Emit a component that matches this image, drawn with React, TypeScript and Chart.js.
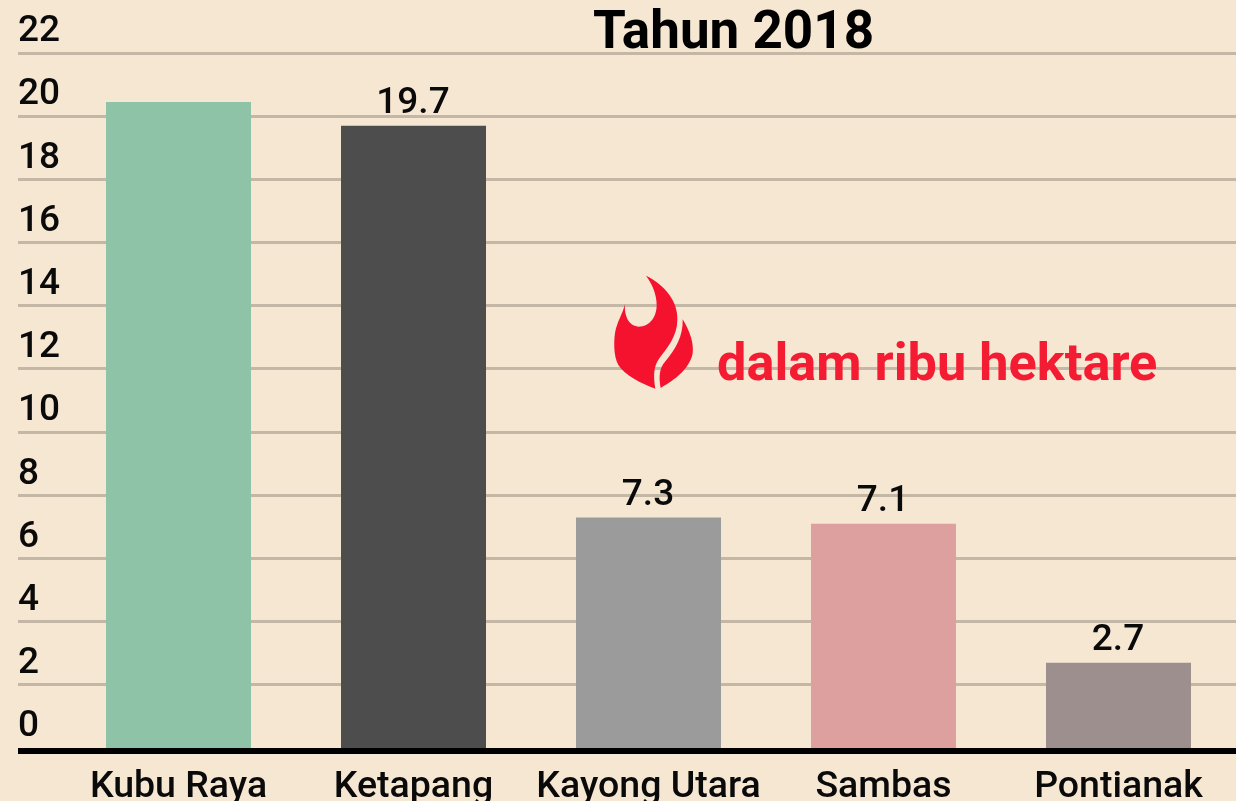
import React, { useEffect, useRef } from "react";
import { Chart, registerables } from "chart.js";

Chart.register(...registerables);

const categories = ["Kubu Raya", "Ketapang", "Kayong Utara", "Sambas", "Pontianak"];
const values = [20.45, 19.7, 7.3, 7.1, 2.7];
const valueLabels = ["", "19.7", "7.3", "7.1", "2.7"];
const barColors = ["#8fc3a7", "#4d4d4d", "#9b9b9b", "#de9f9f", "#9e8f8f"];
const titleText = "Tahun 2018";
const unitText = "dalam ribu hektare";

const FLAME_MAIN =
  "M138,47 C195,75 235,125 232,180 C232,230 200,265 178,295 C160,320 160,350 166,386 C120,370 75,345 55,315 C40,290 40,235 48,205 C55,180 68,160 75,133 C72,165 85,198 115,200 C150,200 170,170 170,135 C170,100 155,70 138,47 Z";
const FLAME_SIDE =
  "M248,178 C270,215 282,250 278,280 C270,325 225,360 182,384 C176,350 178,325 195,305 C225,270 250,230 248,178 Z";

const overlayPlugin = {
  id: "overlay",
  afterDatasetsDraw(chart: any) {
    const { ctx, scales } = chart;
    const zero = scales.y.getPixelForValue(0);
    ctx.save();
    // baseline
    ctx.fillStyle = "#000000";
    ctx.fillRect(18, zero, 1218, 6);

    // value labels
    ctx.fillStyle = "#0a0a0a";
    ctx.font = "500 37px Roboto";
    ctx.textAlign = "center";
    ctx.textBaseline = "alphabetic";
    chart.getDatasetMeta(0).data.forEach((bar: any, i: number) => {
      if (valueLabels[i]) ctx.fillText(valueLabels[i], bar.x - 0.5, bar.y - 12.5);
    });

    // title
    ctx.fillStyle = "#000000";
    ctx.font = "700 53px Roboto";
    ctx.fillText(titleText, 733.5, 48);

    // unit note
    ctx.fillStyle = "#f41c33";
    ctx.font = "700 52.3px Roboto";
    ctx.textAlign = "left";
    ctx.fillText(unitText, 717, 380);

    // logo
    ctx.translate(600, 260);
    ctx.scale(1 / 3, 1 / 3);
    ctx.fillStyle = "#f5122f";
    ctx.fill(new Path2D(FLAME_MAIN));
    ctx.fill(new Path2D(FLAME_SIDE));
    ctx.restore();
  },
};

export default function App() {
  const ref = useRef<HTMLCanvasElement>(null);
  useEffect(() => {
    const chart = new Chart(ref.current!, {
      type: "bar",
      data: {
        labels: categories,
        datasets: [
          {
            data: values,
            backgroundColor: barColors,
            borderWidth: 0,
            barPercentage: 1,
            categoryPercentage: 0.617,
          },
        ],
      },
      plugins: [overlayPlugin],
      options: {
        responsive: false,
        animation: false,
        devicePixelRatio: 1,
        layout: { padding: { left: 18, top: 53, right: 0, bottom: 0 } },
        plugins: { legend: { display: false }, title: { display: false }, tooltip: { enabled: false } },
        scales: {
          x: {
            grid: { display: false },
            border: { display: false },
            afterFit(scale: any) {
              scale.height = 53;
            },
            ticks: {
              color: "#0a0a0a",
              font: { family: "Roboto", size: 37.5, weight: "500" },
              padding: 9,
              maxRotation: 0,
              autoSkip: false,
            },
          },
          y: {
            min: 0,
            max: 22,
            border: { display: false },
            afterFit(scale: any) {
              scale.width = 43;
            },
            grid: {
              color: "#c4b7a6",
              lineWidth: (c: any) => (c.tick && c.tick.value === 0 ? 0 : 3),
              tickLength: 43,
              drawTicks: true,
            },
            ticks: {
              stepSize: 2,
              color: "#0a0a0a",
              font: { family: "Roboto", size: 37, weight: "500" },
              crossAlign: "far",
              labelOffset: -21,
              padding: 0,
              autoSkip: false,
            },
          },
        },
      },
    } as any);
    return () => chart.destroy();
  }, []);
  return (
    <div style={{ position: "fixed", left: 0, top: 0, width: 1236, height: 801, background: "#f6e7d3", overflow: "hidden" }}>
      <canvas ref={ref} width={1236} height={801} style={{ display: "block" }} />
    </div>
  );
}
